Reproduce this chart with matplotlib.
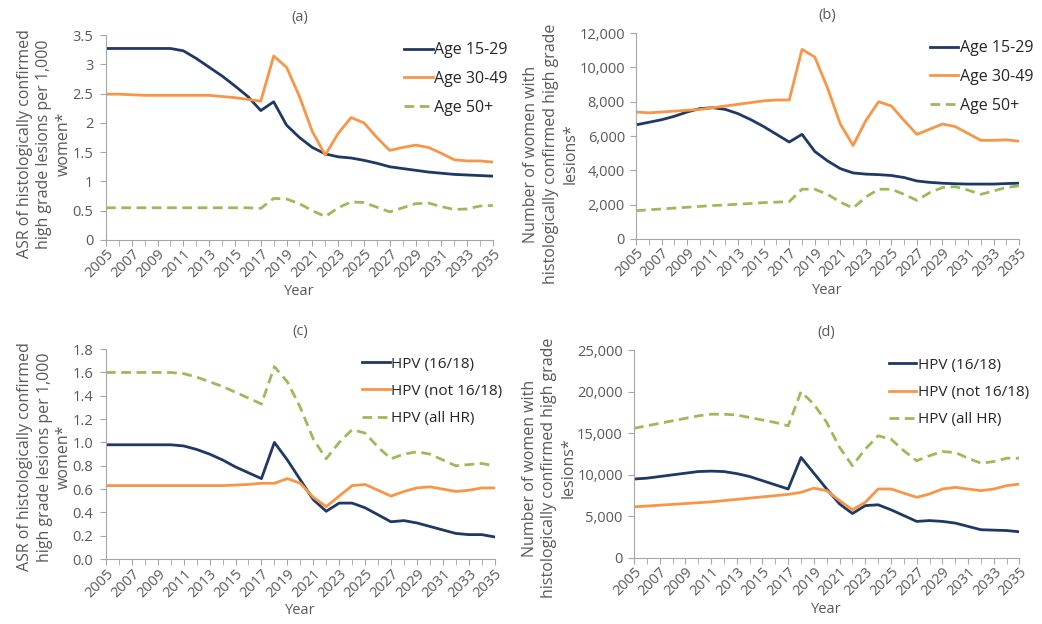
import numpy as np
import matplotlib.pyplot as plt
from matplotlib.ticker import FuncFormatter

plt.rcParams['font.family'] = ['Open Sans', 'DejaVu Sans']

years = np.arange(2005, 2036)

# (a) ASR by age group
asr_15_29 = [3.27, 3.27, 3.27, 3.27, 3.27, 3.27, 3.23, 3.10, 2.95, 2.80, 2.63,
             2.45, 2.21, 2.36, 1.96, 1.75, 1.58, 1.47, 1.42, 1.40, 1.36, 1.31,
             1.25, 1.22, 1.19, 1.16, 1.14, 1.12, 1.11, 1.10, 1.09]
asr_30_49 = [2.49, 2.49, 2.48, 2.47, 2.47, 2.47, 2.47, 2.47, 2.47, 2.45, 2.43,
             2.40, 2.37, 3.14, 2.95, 2.45, 1.85, 1.45, 1.82, 2.09, 2.00, 1.75,
             1.53, 1.58, 1.62, 1.58, 1.48, 1.37, 1.35, 1.35, 1.33]
asr_50 = [0.55, 0.55, 0.55, 0.55, 0.55, 0.55, 0.55, 0.55, 0.55, 0.55, 0.55,
          0.55, 0.54, 0.71, 0.70, 0.62, 0.50, 0.40, 0.55, 0.65, 0.64, 0.56,
          0.48, 0.55, 0.62, 0.63, 0.57, 0.52, 0.53, 0.58, 0.59]

# (b) number of women by age group
num_15_29 = [6650, 6800, 6950, 7150, 7400, 7600, 7650, 7550, 7300, 6950, 6550,
             6100, 5650, 6100, 5100, 4550, 4100, 3850, 3780, 3750, 3700, 3580,
             3380, 3300, 3250, 3220, 3200, 3200, 3200, 3230, 3250]
num_30_49 = [7400, 7350, 7400, 7450, 7500, 7550, 7650, 7750, 7850, 7950, 8050,
             8100, 8100, 11050, 10600, 8800, 6700, 5450, 6900, 8000, 7750, 6900,
             6100, 6400, 6700, 6550, 6150, 5750, 5750, 5780, 5700]
num_50 = [1650, 1700, 1750, 1800, 1850, 1900, 1950, 1980, 2030, 2070, 2120,
          2150, 2180, 2900, 2900, 2600, 2150, 1800, 2450, 2900, 2900, 2600,
          2250, 2700, 3000, 3050, 2850, 2600, 2800, 3000, 3100]

# (c) ASR by HPV type
asr_1618 = [0.98, 0.98, 0.98, 0.98, 0.98, 0.98, 0.97, 0.94, 0.90, 0.85, 0.79,
            0.74, 0.69, 1.00, 0.85, 0.68, 0.51, 0.41, 0.48, 0.48, 0.44, 0.38,
            0.32, 0.33, 0.31, 0.28, 0.25, 0.22, 0.21, 0.21, 0.19]
asr_not1618 = [0.63, 0.63, 0.63, 0.63, 0.63, 0.63, 0.63, 0.63, 0.63, 0.63, 0.635,
               0.64, 0.65, 0.65, 0.69, 0.65, 0.53, 0.45, 0.54, 0.63, 0.64, 0.59,
               0.54, 0.58, 0.61, 0.62, 0.60, 0.58, 0.59, 0.61, 0.61]
asr_allhr = [1.60, 1.60, 1.60, 1.60, 1.60, 1.60, 1.59, 1.56, 1.52, 1.48, 1.43,
             1.38, 1.33, 1.65, 1.52, 1.30, 1.03, 0.86, 1.00, 1.11, 1.08, 0.96,
             0.86, 0.90, 0.92, 0.90, 0.85, 0.80, 0.81, 0.82, 0.80]

# (d) number of women by HPV type
num_1618 = [9500, 9600, 9800, 10000, 10200, 10400, 10450, 10400, 10150, 9800, 9300,
            8800, 8300, 12100, 10200, 8300, 6500, 5350, 6300, 6400, 5800, 5100,
            4400, 4500, 4400, 4200, 3800, 3400, 3350, 3300, 3150]
num_not1618 = [6150, 6250, 6350, 6450, 6550, 6650, 6750, 6900, 7050, 7200, 7350,
               7500, 7650, 7900, 8400, 8100, 6900, 5800, 6700, 8300, 8300, 7800,
               7300, 7700, 8300, 8500, 8300, 8100, 8300, 8700, 8900]
num_allhr = [15600, 15900, 16200, 16500, 16800, 17100, 17300, 17300, 17200, 16900, 16600,
             16300, 15900, 20000, 18500, 16300, 13300, 11100, 13100, 14700, 14300, 12900,
             11700, 12300, 12800, 12700, 12000, 11400, 11600, 12000, 12000]

age_labels = ['Age 15-29', 'Age 30-49', 'Age 50+']
hpv_labels = ['HPV (16/18)', 'HPV (not 16/18)', 'HPV (all HR)']

navy = '#1f3864'
orange = '#f79646'
green = '#9bbb59'
grey = '#595959'

asr_label = 'ASR of histologically confirmed\nhigh grade lesions per 1,000\nwomen*'
num_label = 'Number of women with\nhistologically confirmed high grade\nlesions*'

fig = plt.figure(figsize=(10.42, 6.24), dpi=100)

# axes rect, title, series, labels, ylabel, y range, tick format,
# legend anchor, legend font size, ylabel position, ytick pad
panels = [
    ([0.1017, 0.6154, 0.3714, 0.3285], '(a)', (asr_15_29, asr_30_49, asr_50), age_labels,
     asr_label, (0, 3.5, 0.5), '{:g}', (1.075, 1.035), 11.5, (-0.088, 0.468), 5),
    ([0.6104, 0.6170, 0.3676, 0.3300], '(b)', (num_15_29, num_30_49, num_50), age_labels,
     num_label, (0, 12000, 2000), '{:,.0f}', (1.075, 1.035), 11.5, (-0.151, 0.413), 4),
    ([0.1017, 0.1040, 0.3730, 0.3365], '(c)', (asr_1618, asr_not1618, asr_allhr), hpv_labels,
     asr_label, (0, 1.8, 0.2), '{:.1f}', (1.055, 1.03), 11, (-0.087, 0.486), 5),
    ([0.6084, 0.1058, 0.3700, 0.3330], '(d)', (num_1618, num_not1618, num_allhr), hpv_labels,
     num_label, (0, 25000, 5000), '{:,.0f}', (1.06, 1.03), 11, (-0.148, 0.433), 4),
]

for rect, title, series, labels, ylabel, (ymin, ymax, ystep), fmt, anchor, lfs, lpos, ypad in panels:
    ax = fig.add_axes(rect)
    ax.plot(years, series[0], color=navy, lw=2, label=labels[0])
    ax.plot(years, series[1], color=orange, lw=2, label=labels[1])
    ax.plot(years, series[2], color=green, lw=2, ls=(0, (3.5, 2)), label=labels[2])

    ax.set_xlim(2005, 2035)
    ax.set_ylim(ymin, ymax)
    ax.set_xticks(years, minor=True)
    ax.set_xticks(years[::2])
    ax.set_xticklabels([str(y) for y in years[::2]], rotation=45, ha='right',
                       rotation_mode='anchor')
    ax.set_yticks(np.arange(ymin, ymax + ystep / 2, ystep))
    ax.yaxis.set_major_formatter(FuncFormatter(lambda v, p, f=fmt: f.format(v)))

    for s in ['top', 'right']:
        ax.spines[s].set_visible(False)
    for s in ['left', 'bottom']:
        ax.spines[s].set_color('#a6a6a6')
    ax.tick_params(axis='both', which='both', color='#a6a6a6', labelcolor=grey,
                   labelsize=10.5, direction='out', length=4)
    ax.tick_params(axis='y', pad=ypad)
    ax.tick_params(axis='x', pad=1)

    ax.set_title(title, fontsize=10.5, color=grey, pad=10)
    ax.set_xlabel('Year', fontsize=10.5, color=grey, labelpad=2)
    ax.set_ylabel(ylabel, fontsize=11.5, color=grey, linespacing=1.3)
    ax.yaxis.set_label_coords(*lpos)

    leg = ax.legend(loc='upper right', bbox_to_anchor=anchor, frameon=False,
                    fontsize=lfs, handlelength=1.8, handletextpad=0.1,
                    labelspacing=0.8)
    for t in leg.get_texts():
        t.set_color('#262626')

fig.savefig('out.png', dpi=100)
